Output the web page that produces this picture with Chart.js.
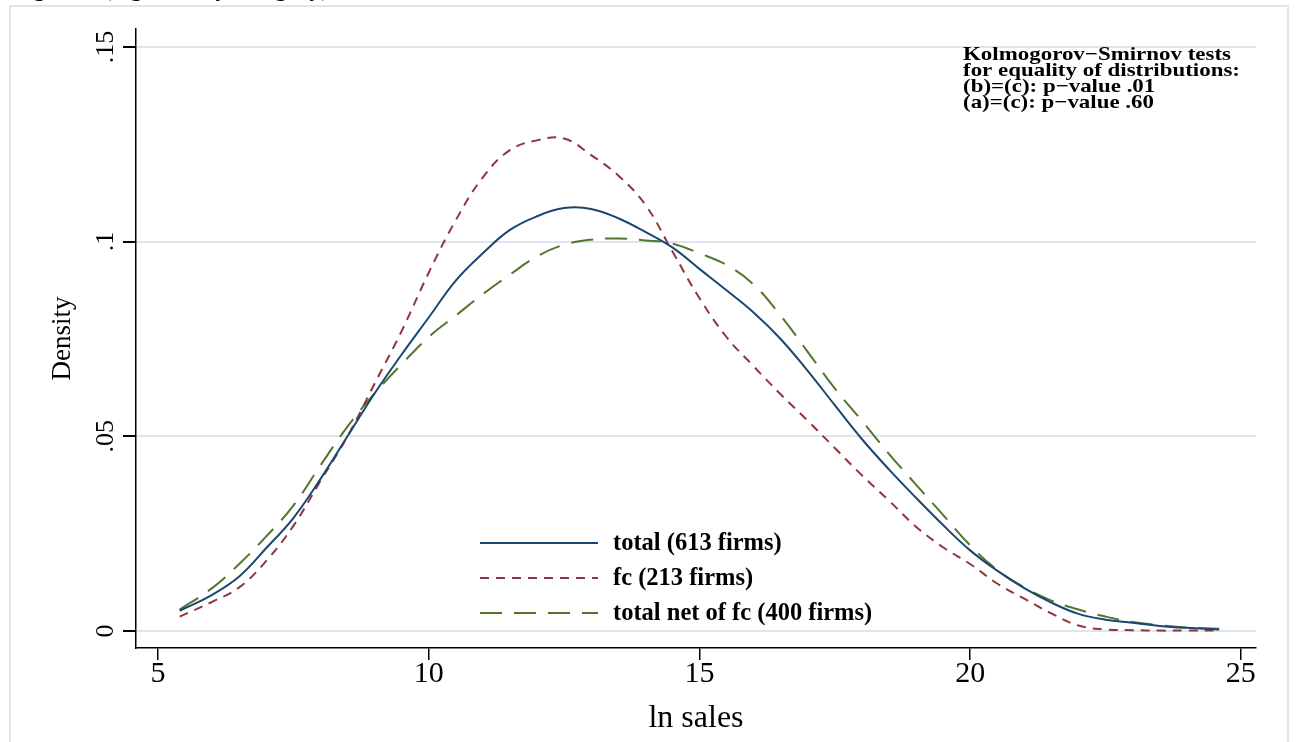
<!DOCTYPE html>
<html>
<head>
<meta charset="utf-8">
<script src="https://cdn.jsdelivr.net/npm/chart.js@4/dist/chart.umd.min.js"></script>
<style>
  body { margin: 0; background: #fff; }
  #wrap { position: relative; width: 1301px; height: 742px; overflow: hidden; }
  #title { position: absolute; left: 12px; top: -25px; font: bold 24px "Liberation Serif", serif; color: #000; white-space: nowrap; }
</style>
</head>
<body>
<div id="wrap">
  <div id="title">Figure 1 (log sales by category)</div>
  <canvas id="myChart" width="1301" height="742"></canvas>
</div>
<script>
// ln sales grid points
var lnSales = [5.4, 6, 6.5, 7, 7.5, 8, 8.5, 9, 9.5, 10, 10.5, 11, 11.5, 12, 12.5, 13, 13.5, 14, 14.5, 15,
    15.5, 16, 16.5, 17, 17.5, 18, 18.5, 19, 19.5, 20, 20.5, 21, 21.5, 22, 22.5, 23, 23.5, 24, 24.6];

// density estimates
var densTotal = [0.0052, 0.0093, 0.014, 0.0213, 0.029, 0.039, 0.050, 0.061, 0.071, 0.0805, 0.090, 0.097, 0.103, 0.1065, 0.1086, 0.1084, 0.106, 0.1025, 0.0985, 0.093,
    0.0875, 0.0818, 0.075, 0.0668, 0.058, 0.0493, 0.0415, 0.0342, 0.0272, 0.0207, 0.0155, 0.011, 0.0073, 0.0044, 0.0029, 0.0021, 0.0013, 0.0008, 0.0004];
var densFc = [0.0037, 0.0075, 0.0112, 0.018, 0.027, 0.0385, 0.050, 0.0635, 0.077, 0.092, 0.1055, 0.1165, 0.1235, 0.126, 0.1265, 0.1222, 0.117, 0.1095, 0.0975, 0.0855,
    0.0755, 0.068, 0.0608, 0.054, 0.047, 0.040, 0.0335, 0.0268, 0.0215, 0.0172, 0.0122, 0.0083, 0.0045, 0.0014, 0.0004, 0.0002, 0.0001, 0.0001, 0.0001];
var densNet = [0.0055, 0.011, 0.0172, 0.0243, 0.0322, 0.0425, 0.0525, 0.061, 0.0685, 0.0755, 0.081, 0.0865, 0.0915, 0.0962, 0.0992, 0.1005, 0.1008, 0.1003, 0.0995, 0.097,
    0.094, 0.089, 0.081, 0.0717, 0.0623, 0.054, 0.0455, 0.0376, 0.0298, 0.022, 0.0157, 0.0112, 0.0078, 0.0055, 0.0037, 0.0023, 0.0015, 0.0009, 0.0006];

var seriesLabels = ['total (613 firms)', 'fc (213 firms)', 'total net of fc (400 firms)'];
var yTickLabels = {0: '0', 0.05: '.05', 0.1: '.1', 0.15: '.15'};
var noteLines = ['Kolmogorov\u2212Smirnov tests', 'for equality of distributions:', '(b)=(c): p\u2212value .01', '(a)=(c): p\u2212value .60'];

function toPoints(ys) {
    return lnSales.map(function(x, i) { return {x: x, y: ys[i]}; });
}

var serif = '"Liberation Serif", "Times New Roman", serif';

// marco exterior y fondo
var framePlugin = {
    id: 'frame',
    beforeDraw: function(chart) {
        var ctx = chart.ctx;
        ctx.save();
        ctx.fillStyle = '#fff';
        ctx.fillRect(0, 0, chart.width, chart.height);
        ctx.strokeStyle = '#dfe4f0';
        ctx.lineWidth = 2;
        ctx.strokeRect(10, 6, 1278, 760);
        ctx.restore();
    }
};

// etiquetas del eje y giradas, titulo del eje y, leyenda interior y nota
var textPlugin = {
    id: 'texts',
    afterDraw: function(chart) {
        var ctx = chart.ctx;
        var ys = chart.scales.y;
        var area = chart.chartArea;
        ctx.save();
        ctx.fillStyle = '#000';
        ctx.font = '26px ' + serif;
        ctx.textAlign = 'center';
        ctx.textBaseline = 'middle';
        Object.keys(yTickLabels).forEach(function(v) {
            var py = ys.getPixelForValue(parseFloat(v));
            ctx.save();
            ctx.translate(106, py);
            ctx.rotate(-Math.PI / 2);
            ctx.fillText(yTickLabels[v], 0, 0);
            ctx.restore();
        });

        ctx.save();
        ctx.font = '27px ' + serif;
        ctx.translate(63, (area.top + area.bottom) / 2);
        ctx.rotate(-Math.PI / 2);
        ctx.fillText('Density', 0, 0);
        ctx.restore();

        // leyenda
        var rows = [543, 578, 613];
        ctx.font = 'bold 24.5px ' + serif;
        ctx.textAlign = 'left';
        chart.data.datasets.forEach(function(ds, i) {
            ctx.beginPath();
            ctx.strokeStyle = ds.borderColor;
            ctx.lineWidth = ds.borderWidth;
            ctx.setLineDash(ds.borderDash || []);
            ctx.moveTo(480, rows[i]);
            ctx.lineTo(598, rows[i]);
            ctx.stroke();
            ctx.setLineDash([]);
            ctx.fillText(ds.label, 613, rows[i] + 1);
        });

        // nota de Kolmogorov-Smirnov (ensanchada)
        ctx.font = 'bold 19px ' + serif;
        var sx = 277 / ctx.measureText(noteLines[1]).width;
        noteLines.forEach(function(t, i) {
            ctx.save();
            ctx.translate(963, 55 + i * 16);
            ctx.scale(sx, 1);
            ctx.fillText(t, 0, 0);
            ctx.restore();
        });
        ctx.restore();
    }
};

var ctx = document.getElementById('myChart').getContext('2d');
var myChart = new Chart(ctx, {
    type: 'line',
    data: {
        datasets: [{
            label: seriesLabels[0],
            data: toPoints(densTotal),
            borderColor: '#1a476f',
            borderWidth: 2,
            pointRadius: 0,
            tension: 0.4
        }, {
            label: seriesLabels[1],
            data: toPoints(densFc),
            borderColor: '#90353b',
            borderWidth: 2,
            borderDash: [9, 7],
            pointRadius: 0,
            tension: 0.4
        }, {
            label: seriesLabels[2],
            data: toPoints(densNet),
            borderColor: '#55752f',
            borderWidth: 2,
            borderDash: [22, 12],
            pointRadius: 0,
            tension: 0.4
        }]
    },
    options: {
        responsive: false,
        animation: false,
        layout: { padding: { left: 0, right: 45, top: 29, bottom: 0 } },
        plugins: { legend: { display: false }, tooltip: { enabled: false } },
        scales: {
            x: {
                type: 'linear',
                min: 4.594,
                max: 25.28,
                afterFit: function(s) { s.height = 94; },
                ticks: { stepSize: 5, includeBounds: false, color: '#000', padding: -4,
                    font: { family: serif, size: 30 } },
                grid: { drawOnChartArea: false, color: '#000', tickColor: '#000', tickLength: 12, lineWidth: 1.5 },
                border: { color: '#000', width: 1.5 },
                title: { display: true, text: 'ln sales', color: '#000', font: { family: serif, size: 32 }, padding: { top: 2 } }
            },
            y: {
                type: 'linear',
                min: -0.00437,
                max: 0.1546,
                afterFit: function(s) { s.width = 136; },
                ticks: { stepSize: 0.05, includeBounds: false, color: 'rgba(0,0,0,0)',
                    font: { family: serif, size: 26 } },
                grid: { color: '#dfe4f0', lineWidth: 2, tickColor: '#000', tickLength: 13 },
                border: { color: '#000', width: 1.5 },
                title: { display: false }
            }
        }
    },
    plugins: [framePlugin, textPlugin]
});
</script>
</body>
</html>
